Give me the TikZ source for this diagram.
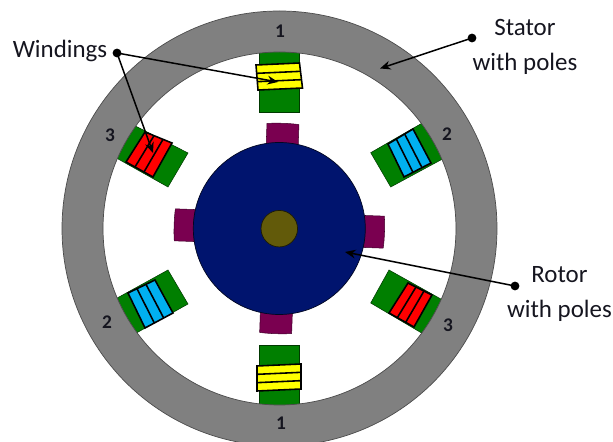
\documentclass[tikz,border=0pt]{standalone}
\usepackage{fontspec}
\setmainfont{Carlito}
\usetikzlibrary{calc,arrows.meta}
\definecolor{statorgray}{HTML}{808080}
\definecolor{polegreen}{HTML}{007F00}
\definecolor{coilyellow}{HTML}{FFFF00}
\definecolor{coilred}{HTML}{FF0000}
\definecolor{coilblue}{HTML}{00B0F0}
\definecolor{rotorblue}{HTML}{00146E}
\definecolor{rotorpole}{HTML}{7A0050}
\definecolor{shaft}{HTML}{625A0A}
\definecolor{labeltext}{HTML}{15151F}
\tikzset{
  polebody/.style={fill=polegreen,draw=black!55!polegreen,line width=0.3pt},
  coil/.style={draw=black,line width=0.9pt,line join=miter},
  rotorpolebody/.style={fill=rotorpole,draw=black!45!rotorpole,line width=0.3pt},
  leader/.style={draw=black,line width=0.85pt,-{Stealth[length=6pt,width=5pt]}},
  leaderdot/.style={circle,fill=black,inner sep=0pt,minimum size=5pt},
  calllabel/.style={font=\fontsize{14.2}{19.6}\selectfont,text=labeltext,align=center,inner sep=0pt},
  numlabel/.style={font=\fontsize{11}{13}\selectfont\bfseries,text=labeltext,inner sep=0pt},
}
\newcommand{\coilbox}[5]{%
  \fill[#5] #1 -- #2 -- #3 -- #4 -- cycle;
  \draw[coil] ($#1!1/3!#2$) -- ($#4!1/3!#3$);
  \draw[coil] ($#1!2/3!#2$) -- ($#4!2/3!#3$);
  \draw[coil] #1 -- #2 -- #3 -- #4 -- cycle;
}
\begin{document}
\begin{tikzpicture}[x=0.02cm,y=-0.02cm]
\useasboundingbox (0,0) rectangle (613,442);
% stator poles (outer ends run under the stator ring)
\fill[polebody] (259,45) -- (299,45) -- (299,112) -- (259,112) -- cycle;
\fill[polebody] (259,345) -- (299,345) -- (299,412) -- (259,412) -- cycle;
\draw[polebody] (370.7,152.7) -- (423.2,122.5) -- (443.5,158.5) -- (390.7,187) -- cycle;
\draw[polebody] (389,270) -- (443.5,300.5) -- (424.2,334.5) -- (370.7,303) -- cycle;
\draw[polebody] (130.5,123.5) -- (188,153) -- (168,187) -- (115.5,157.5) -- cycle;
\draw[polebody] (114.5,299.5) -- (168,270) -- (188,304) -- (135.5,333.5) -- cycle;
% stator ring
\fill[statorgray,draw=black!70,line width=0.4pt,even odd rule]
  (279.5,228.5) circle[radius=217.5] (279.5,228.5) circle[radius=176.5];
% coils
\coilbox{(256,65)}{(258,90)}{(302.5,88)}{(299.5,63)}{coilyellow}
\coilbox{(257,366)}{(257,391)}{(301,389)}{(301,364)}{coilyellow}
\coilbox{(388,144)}{(413,129)}{(431,163)}{(404,177)}{coilblue}
\coilbox{(128,293)}{(155,280)}{(173,313)}{(145,328)}{coilblue}
\coilbox{(408,283)}{(432,295)}{(414,327)}{(389,313)}{coilred}
\coilbox{(145,132)}{(172,143)}{(153,177)}{(126,162)}{coilred}
% rotor poles
\foreach \a in {0,90,180,270}{
  \begin{scope}[shift={(279.3,228.5)},x=0.02cm,y=0.02cm,rotate=\a-2]
    \draw[rotorpolebody] (-16,78) -- (-16,104.5) .. controls (-8,105.5) and (8,105.5) .. (16,104.5) -- (16,78) -- cycle;
  \end{scope}
}
% rotor
\node[circle,fill=rotorblue,draw=black!70!rotorblue,line width=0.4pt,inner sep=0pt,minimum size=172*0.02cm] (rotor) at (279.3,228.5) {};
\node[circle,fill=shaft,draw=black!70!shaft,line width=0.4pt,inner sep=0pt,minimum size=36.5*0.02cm] (shaftnode) at (279.3,228.7) {};
% number labels
\node[numlabel] (n1t) at (280,31) {1};
\node[numlabel] (n3l) at (110,135) {3};
\node[numlabel] (n2r) at (447,134) {2};
\node[numlabel] (n2l) at (107,322) {2};
\node[numlabel] (n3r) at (448,325) {3};
\node[numlabel] (n1b) at (281,423) {1};
% call-outs
\node[calllabel] (windings) at (60,51) {Windings};
\node[calllabel] (stator) at (525,47) {Stator\\with poles};
\node[calllabel] (rotorlabel) at (559.5,294) {Rotor\\with poles};
\node[leaderdot] (wdot) at (117,53) {};
\node[leaderdot] (sdot) at (472,38) {};
\node[leaderdot] (rdot) at (515,286) {};
\coordinate (wtipa) at (278,82);
\coordinate (wtipb) at (153,153);
\coordinate (stip) at (380,68.5);
\coordinate (rtip) at (345,252);
\draw[leader] (wdot.center) -- (wtipa);
\draw[leader] (wdot.center) -- (wtipb);
\draw[leader] (sdot.center) -- (stip);
\draw[leader] (rdot.center) -- (rtip);
\end{tikzpicture}
\end{document}
